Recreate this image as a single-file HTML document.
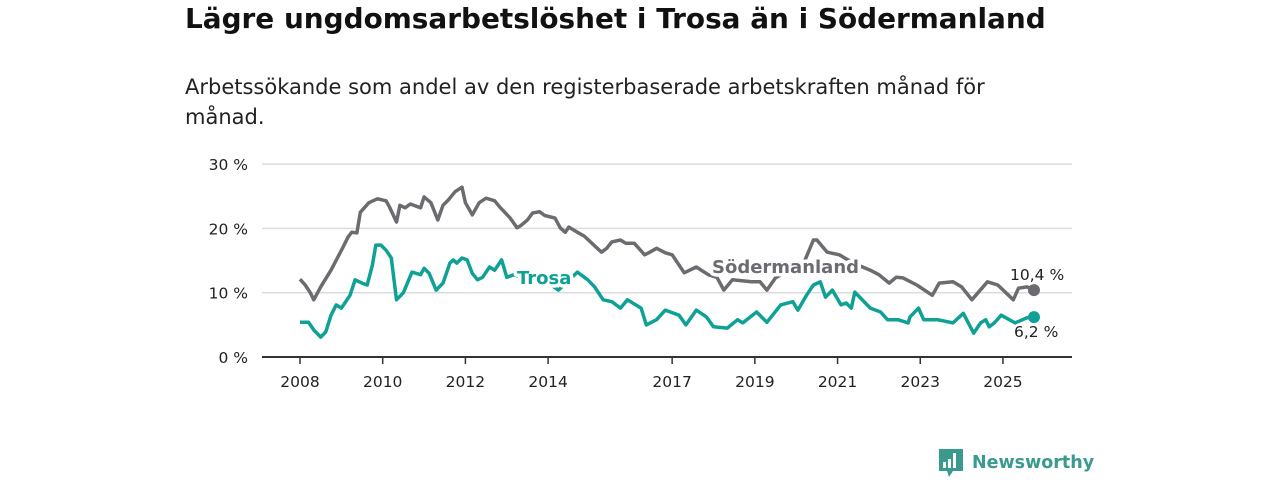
<!DOCTYPE html>
<html><head><meta charset="utf-8"><style>
body{margin:0;width:1280px;height:480px;background:#fff;font-family:"DejaVu Sans","Liberation Sans",sans-serif;overflow:hidden;position:relative}
h1{position:absolute;left:185px;top:2px;margin:0;font-size:27.9px;font-weight:bold;color:#111;white-space:nowrap}
p.sub{position:absolute;left:185px;top:72px;margin:0;width:850px;font-size:21px;line-height:30px;color:#222}
svg{position:absolute;left:0;top:0}
</style></head><body>
<h1>Lägre ungdomsarbetslöshet i Trosa än i Södermanland</h1>
<p class="sub">Arbetssökande som andel av den registerbaserade arbetskraften månad för månad.</p>
<svg id="c" width="1280" height="480"></svg>
<script>
const yTicks=[0,10,20,30];
const yTickLabels=["0 %","10 %","20 %","30 %"];
const xTickYears=[2008,2010,2012,2014,2017,2019,2021,2023,2025];
const sodMonths=[0,1.5,3,4,6,9,12,14,15,16.5,17.5,20,22.5,25,26,28,29,30.5,32,35,36,38,40,41.5,43,45,47,48,50,52,54,56.5,58,61,63,64,66,67.5,69.5,71,74,75.5,77,78,80.5,82.5,85.5,87.5,89,90.5,93,94.5,97,100,101.5,103.5,106,108,111.5,115,118.5,121,123,125.5,131,133.5,135.5,138,142,146.5,149,150,153,156.5,161,165.5,168,171,173,175,179,183.5,185.5,189.5,192,195,199.5,202.5,207,208.5,211,213];
const sodValues=[12.1,11.2,10,8.9,10.9,13.5,16.6,18.7,19.4,19.3,22.5,24,24.6,24.3,23.3,21,23.6,23.2,23.8,23.2,24.9,24,21.3,23.6,24.4,25.7,26.4,24,22.1,24,24.7,24.3,23.3,21.6,20.1,20.4,21.3,22.4,22.6,22,21.6,20.1,19.4,20.2,19.4,18.8,17.3,16.3,16.9,17.9,18.2,17.7,17.7,15.9,16.3,16.9,16.2,15.9,13.1,14,12.8,12.4,10.4,12,11.7,11.7,10.4,12.3,13.5,15,18.2,18.2,16.3,15.9,14.5,13.5,12.8,11.5,12.4,12.3,11.2,9.6,11.5,11.7,10.9,8.9,11.7,11.2,8.9,10.7,10.9,10.4];
const troMonths=[0,2.5,4,6,7.5,9,10.5,12,14.5,16,18,19.5,21,22,23.5,25,26.5,28,30,32.5,35,36,37.5,39.5,41.5,43.5,44.5,45.5,47,48.5,50,51.5,53,55,56.5,58.5,60,62,64,68,72,75,80.5,83.5,85.5,88,90.5,93,95,99,100.5,103.5,106,110,112,115,118,120,124,127,128.5,132.5,135.5,139.5,143,144.5,147,149,151,152.5,154.5,157,158.5,160,161,165.5,168.5,170.5,173.5,176.5,177,179.5,181,185,189.5,192.5,195.5,197.5,199,200,201.5,203.5,207.5,211,213];
const troValues=[5.4,5.4,4.2,3.1,3.9,6.5,8.1,7.6,9.6,12,11.5,11.2,14.3,17.4,17.4,16.6,15.4,8.9,10,13.2,12.8,13.8,13,10.4,11.5,14.6,15.1,14.6,15.4,15.1,13,12,12.4,14,13.5,15.1,12.4,12.8,12.5,12,11.5,10.4,13.2,12,10.9,8.9,8.6,7.6,8.9,7.6,5,5.8,7.3,6.5,5,7.3,6.2,4.7,4.5,5.8,5.3,7,5.4,8.1,8.6,7.3,9.6,11.2,11.7,9.3,10.4,8.1,8.4,7.6,10.1,7.6,7,5.8,5.8,5.3,6.2,7.6,5.8,5.8,5.3,6.8,3.7,5.3,5.8,4.7,5.3,6.5,5.3,6.1,6.2];
const svg=document.getElementById('c'),NS='http://www.w3.org/2000/svg';
const X=m=>300+m*41.35/12, Y=v=>357-v*6.43;
function mk(t,a,txt){const e=document.createElementNS(NS,t);for(const k in a)e.setAttribute(k,a[k]);if(txt!=null)e.textContent=txt;svg.appendChild(e);return e;}
yTicks.forEach((v,i)=>{
 if(v>0){const g=mk('line',{x1:262,x2:1072,y1:Y(v),y2:Y(v),stroke:'#dcdcdc','stroke-width':1.5});
 
 }
 const t=mk('text',{x:248,y:Y(v)+6,'text-anchor':'end','font-size':15.5,fill:'#222'},yTickLabels[i]);
 
 
});
const ax=mk('line',{x1:262,x2:1072,y1:357,y2:357,stroke:'#333','stroke-width':2});


xTickYears.forEach(yr=>{
 const x=X((yr-2008)*12);
 mk('line',{x1:x,x2:x,y1:357,y2:364,stroke:'#333','stroke-width':1.5});
 const t=mk('text',{x:x,y:387,'text-anchor':'middle','font-size':15.5,fill:'#222'},yr);
 
 
});
function line(ms,vs,col,name){
 const d=ms.map((m,i)=>(i?'L':'M')+X(m).toFixed(1)+' '+Y(vs[i]).toFixed(1)).join('');
 const p=mk('path',{d:d,fill:'none',stroke:col,'stroke-width':3.5,'stroke-linejoin':'round'});
 
 
 const n=ms.length-1;
 const c=mk('circle',{cx:X(ms[n]),cy:Y(vs[n]),r:6,fill:col});
 
 
}
line(sodMonths,sodValues,'#6d6b70','sodermanland-line');
line(troMonths,troValues,'#0fa195','trosa-line');
function lab(x,y,txt,col,size,bold,name){
 const t=mk('text',{x:x,y:y,'font-size':size,'font-weight':bold?'bold':'normal',fill:col,stroke:'#fff','stroke-width':bold?7:5,'paint-order':'stroke','stroke-linejoin':'round'},txt);
 
 
}
lab(712,273,'Södermanland','#6d6b70',18,true,'sodermanland-label');
lab(517,284,'Trosa','#0fa195',18,true,'trosa-label');
lab(1010,280,'10,4 %','#222',15.5,false,'sodermanland-end-value');
lab(1014,337,'6,2 %','#222',15.5,false,'trosa-end-value');
</script>
<div style="position:absolute;left:937px;top:448px;height:30px;display:flex;align-items:center">
<svg width="28" height="32" viewBox="0 0 28 32" style="position:static"><path d="M2 2h24v22H16l-4 6-2-6H2z" fill="#3a9a8e"/><rect x="6" y="15" width="3" height="6" fill="#fff"/><rect x="11" y="12" width="3" height="9" fill="#fff"/><rect x="16" y="6" width="3" height="15" fill="#fff"/></svg>
<span style="margin-left:7px;font-size:17.5px;font-weight:bold;color:#3a9a8e">Newsworthy</span></div>
</body></html>
